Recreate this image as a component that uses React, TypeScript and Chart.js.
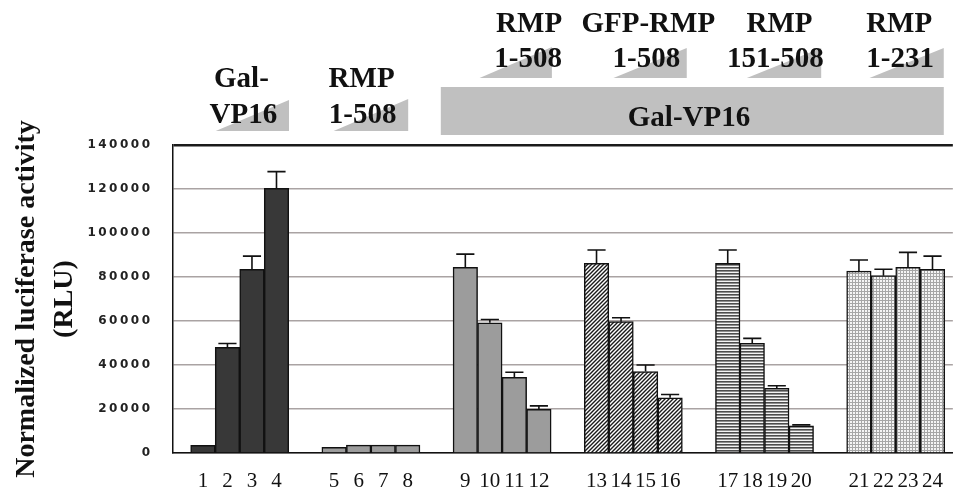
import React, { useEffect, useRef } from 'react';
import { Chart, registerables } from 'chart.js';

Chart.register(...registerables);

// ---- Data ----
const BAR_LABELS = ['1', '2', '3', '4', '5', '6', '7', '8', '9', '10', '11', '12', '13', '14', '15', '16', '17', '18', '19', '20', '21', '22', '23', '24'];
const GROUP_NAMES = ['Gal-VP16', 'RMP 1-508', 'Gal-VP16 + RMP 1-508', 'Gal-VP16 + GFP-RMP 1-508', 'Gal-VP16 + RMP 151-508', 'Gal-VP16 + RMP 1-231'];

const galVP16 = [3500, 48000, 83500, 120300];
const galVP16Err = [0, 1800, 6000, 7600];
const rmp508 = [2600, 3600, 3600, 3600];
const rmp508Err = [0, 0, 0, 0];
const galRmp508 = [84400, 59200, 34400, 19900];
const galRmp508Err = [6000, 1500, 2300, 1500];
const galGfpRmp508 = [86200, 59700, 37000, 25100];
const galGfpRmp508Err = [6100, 1800, 3000, 1500];
const galRmp151 = [86200, 49900, 29400, 12400];
const galRmp151Err = [6100, 2200, 1200, 400];
const galRmp231 = [82700, 80600, 84400, 83500];
const galRmp231Err = [5000, 2900, 6800, 6000];

const Y_MIN = 0;
const Y_MAX = 140000;
const Y_STEP = 20000;

const HEADER_LINES = [
  ['Gal-', 'VP16'],
  ['RMP', '1-508'],
  ['RMP', '1-508'],
  ['GFP-RMP', '1-508'],
  ['RMP', '151-508'],
  ['RMP', '1-231'],
];
const HEADER_BAR_TEXT = 'Gal-VP16';

// ---- Layout (not data) ----
const GROUP_PERIOD = 5.35; // x-units between group starts (1 unit = 1 bar)
const X_MIN = -1.22;
const X_MAX = 30.58;
// header annotation layout in x-units / canvas y
const WEDGES = [
  [0.52, 3.51, 100, 131],
  [5.33, 8.37, 99, 131],
  [11.28, 14.23, 47, 78],
  [16.74, 19.73, 48, 78],
  [22.18, 25.21, 48, 78],
  [27.18, 30.21, 48, 78],
];
const HEADER_TEXT_POS = [
  [1.57, 87, 1.65, 123],
  [6.47, 87, 6.51, 123],
  [13.3, 32, 13.26, 67],
  [18.16, 32, 18.08, 67],
  [23.51, 32, 23.34, 67],
  [28.39, 32, 28.43, 67],
];
const HEADER_BAR = [9.7, 30.21, 87, 135];
const HEADER_BAR_TEXT_POS = [19.82, 126];

const GROUP_VALUES = [galVP16, rmp508, galRmp508, galGfpRmp508, galRmp151, galRmp231];
const GROUP_ERRORS = [galVP16Err, rmp508Err, galRmp508Err, galGfpRmp508Err, galRmp151Err, galRmp231Err];
const BAR_POSITIONS = GROUP_VALUES.flatMap((vals, g) => vals.map((_, j) => g * GROUP_PERIOD + j));

function makePattern(kind: string): CanvasPattern | string {
  const c = document.createElement('canvas');
  const ctx = c.getContext('2d')!;
  if (kind === 'diag') {
    const s = 4;
    c.width = s; c.height = s;
    ctx.fillStyle = '#ffffff';
    ctx.fillRect(0, 0, s, s);
    ctx.strokeStyle = '#1a1a1a';
    ctx.lineWidth = 1.4;
    ctx.beginPath();
    ctx.moveTo(0, s); ctx.lineTo(s, 0);
    ctx.moveTo(-1, 1); ctx.lineTo(1, -1);
    ctx.moveTo(s - 1, s + 1); ctx.lineTo(s + 1, s - 1);
    ctx.stroke();
  } else if (kind === 'horiz') {
    c.width = 4; c.height = 3;
    ctx.fillStyle = '#4d4d4d'; ctx.fillRect(0, 0, 4, 1);
    ctx.fillStyle = '#8e8e8e'; ctx.fillRect(0, 1, 4, 1);
    ctx.fillStyle = '#f4f4f4'; ctx.fillRect(0, 2, 4, 1);
  } else {
    c.width = 3; c.height = 3;
    ctx.fillStyle = '#a6a6a6'; ctx.fillRect(0, 0, 3, 3);
    ctx.fillStyle = '#f4f4f4'; ctx.fillRect(1, 1, 2, 2);
  }
  return ctx.createPattern(c, 'repeat')!;
}

const errorBarPlugin = {
  id: 'errorBars',
  afterDatasetsDraw(chart: any) {
    const ctx = chart.ctx;
    const yScale = chart.scales.y;
    chart.data.datasets.forEach((ds: any, di: number) => {
      const meta = chart.getDatasetMeta(di);
      meta.data.forEach((bar: any, i: number) => {
        const err = ds.errors[i];
        if (!err) return;
        const v = ds.data[i].y;
        const yTop = yScale.getPixelForValue(v + err);
        const half = bar.width * 0.37;
        ctx.save();
        ctx.strokeStyle = '#111';
        ctx.lineWidth = 1.6;
        ctx.beginPath();
        ctx.moveTo(bar.x, bar.y);
        ctx.lineTo(bar.x, yTop);
        ctx.moveTo(bar.x - half, yTop);
        ctx.lineTo(bar.x + half, yTop);
        ctx.stroke();
        ctx.restore();
      });
    });
  },
};

const headerPlugin = {
  id: 'headerAnnotations',
  beforeDraw(chart: any) {
    const s: any = chart.scales.y;
    if (s && !s.__spaced) {
      const orig = s.drawLabels.bind(s);
      s.drawLabels = (ca: any) => {
        const c: any = chart.ctx;
        c.save();
        c.letterSpacing = '2.5px';
        orig(ca);
        c.restore();
      };
      s.__spaced = true;
    }
  },
  afterDraw(chart: any) {
    const ctx = chart.ctx;
    const x = chart.scales.x;
    ctx.save();
    ctx.fillStyle = '#c0c0c0';
    WEDGES.forEach(([a, b, top, bottom]) => {
      const xa = x.getPixelForValue(a);
      const xb = x.getPixelForValue(b);
      ctx.beginPath();
      ctx.moveTo(xa, bottom);
      ctx.lineTo(xb, bottom);
      ctx.lineTo(xb, top);
      ctx.closePath();
      ctx.fill();
    });
    const bx0 = x.getPixelForValue(HEADER_BAR[0]);
    const bx1 = x.getPixelForValue(HEADER_BAR[1]);
    ctx.fillRect(bx0, HEADER_BAR[2], bx1 - bx0, HEADER_BAR[3] - HEADER_BAR[2]);

    ctx.fillStyle = '#111';
    ctx.font = 'bold 29px "Liberation Serif", serif';
    ctx.textAlign = 'center';
    ctx.textBaseline = 'alphabetic';
    HEADER_LINES.forEach((lines, g) => {
      const p = HEADER_TEXT_POS[g];
      ctx.fillText(lines[0], x.getPixelForValue(p[0]), p[1]);
      ctx.fillText(lines[1], x.getPixelForValue(p[2]), p[3]);
    });
    ctx.fillText(HEADER_BAR_TEXT, x.getPixelForValue(HEADER_BAR_TEXT_POS[0]), HEADER_BAR_TEXT_POS[1]);
    ctx.restore();
  },
};

export default function App() {
  const ref = useRef<HTMLCanvasElement>(null);

  useEffect(() => {
    const canvas = ref.current;
    if (!canvas) return;
    const fills = ['#383838', '#9c9c9c', '#9c9c9c', makePattern('diag'), makePattern('horiz'), makePattern('dots')];

    const datasets = GROUP_VALUES.map((vals, g) => ({
      label: GROUP_NAMES[g],
      data: vals.map((v, j) => ({ x: BAR_POSITIONS[g * 4 + j], y: v })),
      errors: GROUP_ERRORS[g],
      backgroundColor: fills[g],
      borderColor: '#111',
      borderWidth: 1.5,
      borderSkipped: 'start',
      barPercentage: 1,
      categoryPercentage: 1,
      grouped: false,
    }));

    const chart = new Chart(canvas, {
      type: 'bar',
      data: { datasets } as any,
      plugins: [errorBarPlugin, headerPlugin],
      options: {
        animation: false,
        responsive: false,
        devicePixelRatio: 1,
        layout: { padding: { top: 145, left: 0, right: 0, bottom: 0 } },
        plugins: { legend: { display: false }, tooltip: { enabled: false } },
        scales: {
          x: {
            type: 'linear',
            min: X_MIN,
            max: X_MAX,
            offset: false,
            grid: { display: false, offset: false, drawTicks: false },
            border: { display: true, color: '#111', width: 1.5 },
            afterBuildTicks: (scale: any) => {
              scale.ticks = BAR_POSITIONS.map((v) => ({ value: v }));
            },
            afterFit: (scale: any) => { scale.height = 41; },
            ticks: {
              autoSkip: false,
              maxRotation: 0,
              minRotation: 0,
              padding: 16,
              color: '#111',
              font: { family: '"Liberation Serif", serif', size: 21 },
              callback: (_v: any, i: number) => BAR_LABELS[i],
            },
          },
          y: {
            type: 'linear',
            min: Y_MIN,
            max: Y_MAX,
            afterFit: (scale: any) => { scale.width = 173; },
            grid: {
              drawTicks: false,
              color: (c: any) => (c.tick && c.tick.value === Y_MAX ? '#1a1a1a' : '#aaa3a3'),
              lineWidth: (c: any) => (c.tick && c.tick.value === Y_MAX ? 2.5 : 1.5),
            },
            border: { display: true, color: '#111', width: 1.5 },
            ticks: {
              stepSize: Y_STEP,
              padding: 20.5,
              color: '#222',
              font: { family: '"DejaVu Sans", sans-serif', size: 12, weight: 'bold' },
              callback: (v: any) => String(v),
            },
            title: {
              display: true,
              text: ['Normalized luciferase activity', '(RLU)'],
              color: '#111',
              font: { family: '"Liberation Serif", serif', size: 28, weight: 'bold', lineHeight: 1.34 },
              padding: { top: 8, bottom: 0 },
            },
          },
        },
      } as any,
    });
    return () => chart.destroy();
  }, []);

  return (
    <div style={{ position: 'fixed', left: 0, top: 0, width: 959, height: 494, background: '#fff' }}>
      <canvas ref={ref} width={959} height={494} style={{ display: 'block', width: 959, height: 494 }} />
    </div>
  );
}
